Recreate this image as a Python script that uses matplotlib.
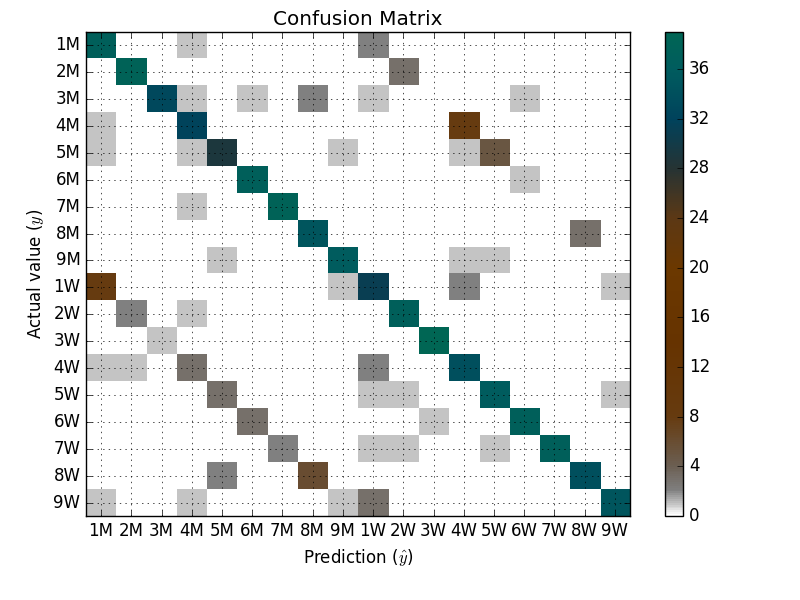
import numpy as np
import matplotlib
matplotlib.use("Agg")
import matplotlib.pyplot as plt
from matplotlib.colors import LinearSegmentedColormap

plt.style.use('classic')

labels = ['1M', '2M', '3M', '4M', '5M', '6M', '7M', '8M', '9M',
          '1W', '2W', '3W', '4W', '5W', '6W', '7W', '8W', '9W']

# (row, col, count) off-diagonal entries
off_diag = [
    (0, 3, 1), (0, 9, 2),
    (1, 10, 3),
    (2, 3, 1), (2, 5, 1), (2, 7, 2), (2, 9, 1), (2, 14, 1),
    (3, 0, 1), (3, 12, 8),
    (4, 0, 1), (4, 3, 1), (4, 8, 1), (4, 12, 1), (4, 13, 5),
    (5, 14, 1),
    (6, 3, 1),
    (7, 16, 3),
    (8, 4, 1), (8, 12, 1), (8, 13, 1),
    (9, 0, 8), (9, 8, 1), (9, 12, 2), (9, 17, 1),
    (10, 1, 2), (10, 3, 1),
    (11, 2, 1),
    (12, 0, 1), (12, 1, 1), (12, 3, 3), (12, 9, 2),
    (13, 4, 3), (13, 9, 1), (13, 10, 1), (13, 17, 1),
    (14, 5, 3), (14, 11, 1),
    (15, 6, 2), (15, 9, 1), (15, 10, 1), (15, 13, 1),
    (16, 4, 2), (16, 7, 6),
    (17, 0, 1), (17, 3, 1), (17, 8, 1), (17, 9, 3),
]
diag = [37, 38, 33, 32, 29, 37, 38, 35, 36, 31, 37, 39, 34, 36, 37, 37, 34, 35]

cm = np.zeros((18, 18))
for i, d in enumerate(diag):
    cm[i, i] = d
for r, c, v in off_diag:
    cm[r, c] = v

vmax = 39.0
nodes = [
    (0, (1, 1, 1)), (1, (0.75, 0.75, 0.75)), (2, (0.5, 0.5, 0.5)),
    (4, (0.42, 0.37, 0.32)), (8, (0.4, 0.23, 0.06)), (14, (0.4, 0.2, 0.0)),
    (20, (0.42, 0.22, 0.0)), (24, (0.36, 0.22, 0.08)), (28, (0.15, 0.2, 0.2)),
    (32, (0.0, 0.26, 0.36)), (36, (0.0, 0.36, 0.37)), (39, (0.0, 0.4, 0.33)),
]
cmap = LinearSegmentedColormap.from_list('cm', [(v / vmax, c) for v, c in nodes])

fig = plt.figure(figsize=(8, 6), dpi=100)
ax = fig.add_axes([0.1075, 0.14, 0.68, 0.807])
cax = fig.add_axes([0.831, 0.14, 0.023, 0.807])
im = ax.imshow(cm, interpolation='nearest', cmap=cmap, vmin=0, vmax=vmax, aspect='auto')
ax.set_title('Confusion Matrix')
cb = fig.colorbar(im, cax=cax, ticks=np.arange(0, 40, 4))
ax.set_xticks(range(18))
ax.set_yticks(range(18))
ax.set_xticklabels(labels)
ax.set_yticklabels(labels)
ax.set_xlabel(r'Prediction ($\hat{y}$)')
ax.set_ylabel(r'Actual value ($y$)')
ax.grid(True)
fig.savefig('out.png')
